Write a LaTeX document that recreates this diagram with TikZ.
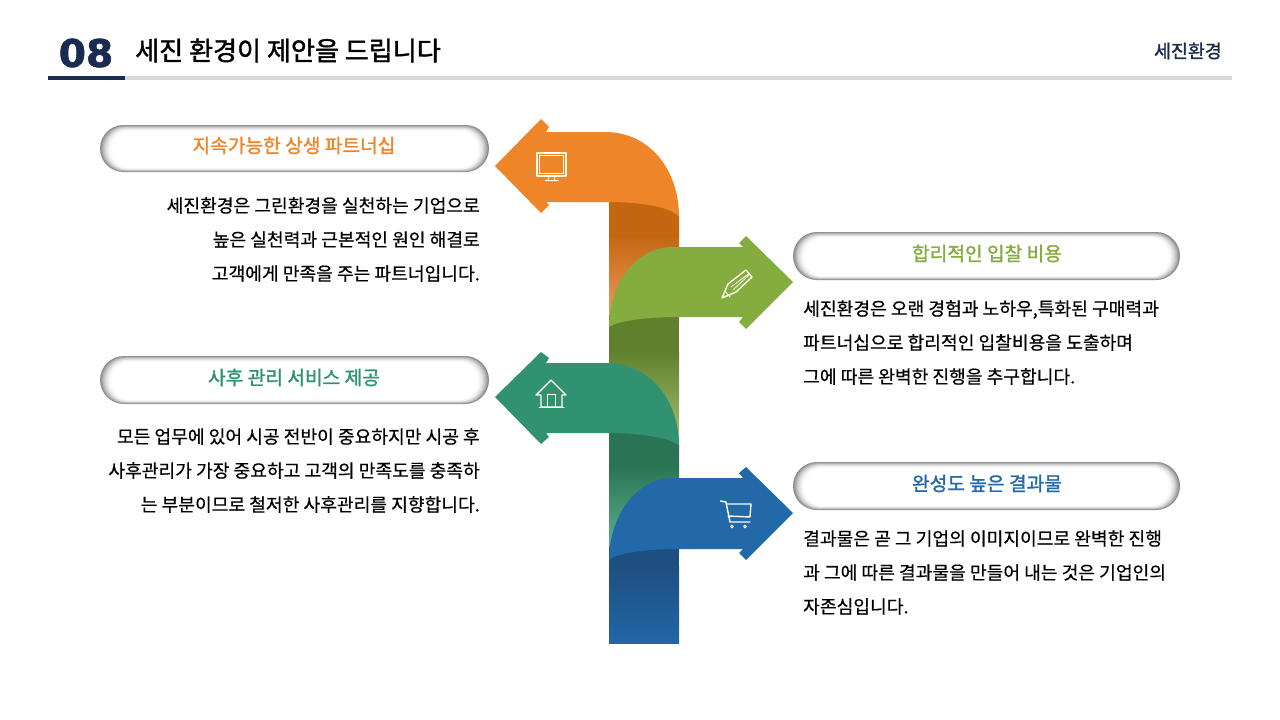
\documentclass[tikz,border=0pt]{standalone}
\usepackage{fontspec}
\setmainfont{Noto Sans CJK KR}[FakeBold=0.5]
\newfontfamily\headfont{Noto Sans CJK KR}[FakeBold=1.5]
\newfontfamily\numfont{DejaVu Sans Bold}[FakeBold=1.6,FakeStretch=1.03]
\usetikzlibrary{positioning}
\definecolor{navy}{HTML}{1A2B50}
\definecolor{rulegray}{HTML}{D9D9D9}
\definecolor{orangeA}{HTML}{EE8629}
\definecolor{orangeB}{HTML}{C4660F}
\definecolor{orangeC}{HTML}{EDA066}
\definecolor{greenA}{HTML}{84AC3E}
\definecolor{greenB}{HTML}{5F812E}
\definecolor{greenC}{HTML}{AAC572}
\definecolor{tealA}{HTML}{319272}
\definecolor{tealB}{HTML}{2A7455}
\definecolor{tealC}{HTML}{5FB592}
\definecolor{blueA}{HTML}{2269A9}
\definecolor{blueB}{HTML}{1E4F80}
\definecolor{blueC}{HTML}{2266A8}
\tikzset{
  pillfont/.style={font=\fontsize{19.2}{22}\selectfont\headfont},
  bodytext/.style={font=\fontsize{18.17}{34}\selectfont, text=black, inner sep=0pt},
  icon/.style={draw=white!92!yellow, line width=1.4pt, line join=round, line cap=round},
}
% pill with inner shadow: x1, y1, x2, y2
\newcommand{\pillshape}[4]{
  \foreach \i in {0,...,10}{
    \pgfmathsetmacro{\shadeval}{46*(1-\i/10)^2}
    \pgfmathsetmacro{\radius}{(#4-#2)/2-\i*0.6}
    \fill[black!\shadeval, rounded corners=\radius pt]
      (#1+\i*1.2,#2+\i*0.65) rectangle (#3-\i*1.2,#4-\i*0.45);
  }
}
\begin{document}
\begin{tikzpicture}[x=1pt,y=-1pt]
  \useasboundingbox[fill=white] (0,0) rectangle (1280,720);

  % header
  \fill[rulegray] (125,76) rectangle (1232,80);
  \fill[navy] (48,76) rectangle (125,80);
  \node[font=\fontsize{38}{40}\selectfont\numfont, text=navy, inner sep=0pt] (num) at (86,53) {08};
  \node[font=\fontsize{26.1}{30}\selectfont\headfont, anchor=west, inner sep=0pt] (title) at (135,50.5) {세진 환경이 제안을 드립니다};
  \node[font=\fontsize{18.4}{22}\selectfont\headfont, text=navy, anchor=east, inner sep=0pt] (brand) at (1222,51) {세진환경};

  % bands
  \shade[top color=orangeB, bottom color=orangeC] (609,235) rectangle (679,324);
  \fill[orangeB] (609,201) .. controls (640,201) and (672,206) .. (679,216) -- (679,236) -- (609,236) -- cycle;
  \fill[orangeC] (609,323) rectangle (640,332);
  \shade[top color=greenB, bottom color=greenC] (609,352) rectangle (679,448);
  \fill[greenB] (609,315) rectangle (679,353);
  \shade[top color=tealB, bottom color=tealC] (609,465) rectangle (679,555);
  \fill[tealB] (609,432) .. controls (640,432) and (672,437) .. (679,445) -- (679,466) -- (609,466) -- cycle;
  \fill[tealC] (609,554) rectangle (640,562);
  \shade[top color=blueB, bottom color=blueC] (609,565) rectangle (679,643);
  \fill[blueB] (609,547) rectangle (679,566);

  % arrows
  \fill[orangeA] (495,166) -- (541,119) -- (549,127) -- (546,132) -- (605,132)
    .. controls (650,132) and (679,170) .. (679,217)
    .. controls (672,207) and (640,202) .. (609,202)
    -- (546,202) -- (549,205) -- (541,213) -- cycle;
  \fill[greenA] (793,282) -- (746,236) -- (739,243) -- (743,247) -- (673,247)
    .. controls (635,247) and (609,285) .. (609,327)
    .. controls (616,322) and (640,317) .. (679,317)
    -- (743,317) -- (739,322) -- (746,329) -- cycle;
  \fill[tealA] (495,397) -- (541,352) -- (549,358) -- (546,363) -- (605,363)
    .. controls (650,363) and (679,400) .. (679,446)
    .. controls (672,438) and (640,433) .. (609,433)
    -- (546,433) -- (549,437) -- (541,444) -- cycle;
  \fill[blueA] (793,513) -- (746,467) -- (739,473) -- (743,478) -- (673,478)
    .. controls (635,478) and (609,518) .. (609,560)
    .. controls (616,554) and (640,549) .. (679,549)
    -- (743,549) -- (739,553) -- (746,560) -- cycle;

  % icons
  \draw[icon] (537,153) rectangle (566,176);
  \draw[icon, line width=0.9pt] (539.5,155.5) rectangle (563.5,173.5);
  \draw[icon, line width=1pt] (549,176) -- (548,180) (554,176) -- (555,180) (545,180.5) -- (558,180.5);
  \draw[icon] (536,395) -- (551,380) -- (566,395) -- (562,395) -- (562,407) -- (541,407) -- (541,395) -- cycle;
  \draw[icon, line width=1pt] (539,407) -- (564,407) (547,407) -- (547,394) -- (555,394) -- (555,407);
  \draw[icon] (722,298) -- (728,284) -- (746,270) -- (752,277) -- (736,292) -- cycle;
  \draw[icon, line width=0.8pt] (725,291) -- (730,297) (731,287) -- (749,273.5) (733.5,289.5) -- (749,275);
  \draw[icon] (720.5,501) -- (726,502) -- (730,522) -- (750,522);
  \draw[icon] (726,504) -- (751,504) -- (750,517) -- (728,516);
  \draw[icon, line width=1pt] (732,526.5) circle (1.4) (745,526.5) circle (1.4);

  % pills
  \pillshape{100}{125}{489}{172}
  \pillshape{793}{232}{1180}{280}
  \pillshape{100}{356}{489}{404}
  \pillshape{793}{462}{1180}{510}
  \node[pillfont, text=orangeA] (pillA) at (294,145.5) {지속가능한 상생 파트너십};
  \node[pillfont, text=greenA] (pillB) at (987,253.5) {합리적인 입찰 비용};
  \node[pillfont, text=tealA] (pillC) at (294,377.5) {사후 관리 서비스 제공};
  \node[pillfont, text=blueA] (pillD) at (987,483.5) {완성도 높은 결과물};

  % paragraphs
  \node[bodytext, align=right, anchor=east] (textA) at (480,239.5) {세진환경은 그린환경을 실천하는 기업으로\\높은 실천력과 근본적인 원인 해결로\\고객에게 만족을 주는 파트너입니다.};
  \node[bodytext, align=left, anchor=west] (textB) at (803,342.5) {세진환경은 오랜 경험과 노하우,특화된 구매력과\\파트너십으로 합리적인 입찰비용을 도출하며\\그에 따른 완벽한 진행을 추구합니다.};
  \node[bodytext, align=right, anchor=east] (textC) at (480,470.5) {모든 업무에 있어 시공 전반이 중요하지만 시공 후\\사후관리가 가장 중요하고 고객의 만족도를 충족하\\는 부분이므로 철저한 사후관리를 지향합니다.};
  \node[bodytext, align=left, anchor=west] (textD) at (803,572.5) {결과물은 곧 그 기업의 이미지이므로 완벽한 진행\\과 그에 따른 결과물을 만들어 내는 것은 기업인의\\자존심입니다.};
\end{tikzpicture}
\end{document}
